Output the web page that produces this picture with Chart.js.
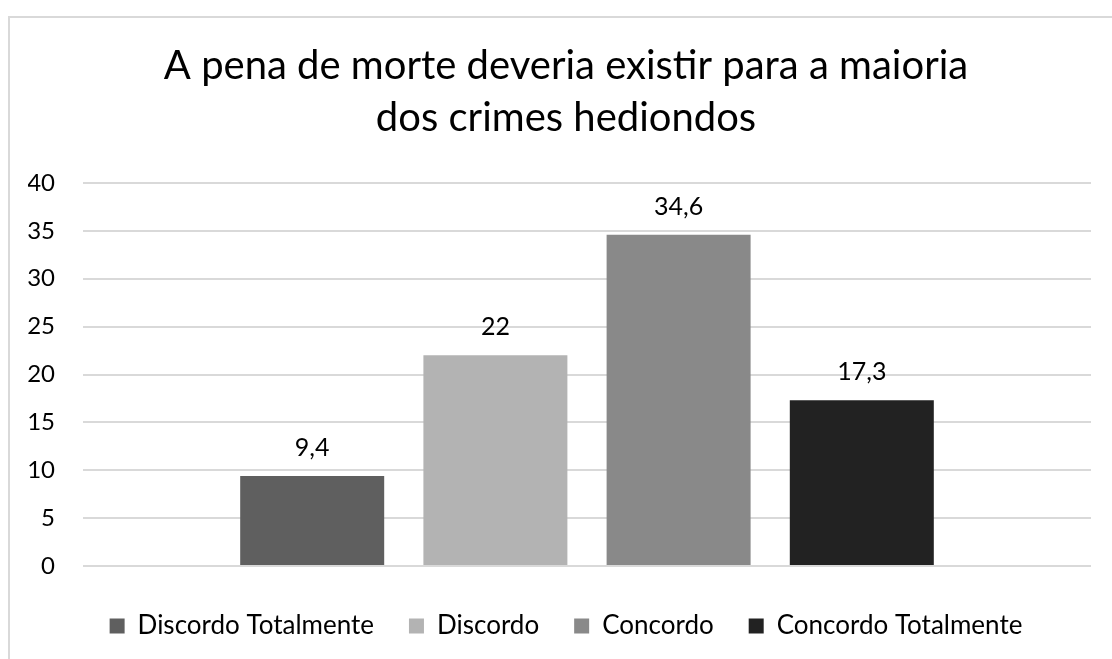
<!DOCTYPE html>
<html>
<head>
<meta charset="utf-8">
<script src="https://cdn.jsdelivr.net/npm/chart.js@4/dist/chart.umd.min.js"></script>
<style>
html,body{margin:0;padding:0;background:#fff;}
#wrap{position:relative;width:1112px;height:659px;overflow:hidden;}
#frame{position:absolute;left:8px;top:16px;width:1200px;height:700px;border-left:2px solid #d9d9d9;border-top:2px solid #d9d9d9;}
#chart{position:absolute;left:0;top:0;}
</style>
</head>
<body>
<div id="wrap">
<div id="frame"></div>
<canvas id="chart" width="1112" height="659"></canvas>
</div>
<script>
const titleLines=["A pena de morte deveria existir para a maioria","dos crimes hediondos"]
const categories=[""]
const seriesNames=["Discordo Totalmente","Discordo","Concordo","Concordo Totalmente"]
const seriesValues=[9.4,22,34.6,17.3]
const seriesColors=["#5f5f5f","#b3b3b3","#898989","#222222"]
const yMin=0
const yMax=40
const yStep=5

const FONT="Lato, 'Open Sans', sans-serif"

// value labels above the bars, placed from each bar element
const valueLabels={
id:"valueLabels",
afterDatasetsDraw(chart){
const ctx=chart.ctx
ctx.save()
ctx.font="25px "+FONT
ctx.fillStyle="#000"
ctx.textAlign="center"
ctx.textBaseline="alphabetic"
chart.data.datasets.forEach((ds,i)=>{
const meta=chart.getDatasetMeta(i)
meta.data.forEach((bar,j)=>{
const txt=String(ds.data[j]).replace(".",",")
ctx.fillText(txt,bar.x,bar.y-20)
})
})
ctx.restore()
}
}

const datasets=seriesNames.map((name,i)=>({
label:name,
data:[seriesValues[i]],
backgroundColor:seriesColors[i],
borderWidth:0,
categoryPercentage:0.727,
barPercentage:0.786
}))

new Chart(document.getElementById("chart"),{
type:"bar",
data:{labels:categories,datasets:datasets},
plugins:[valueLabels],
options:{
responsive:false,
animation:false,
layout:{padding:{left:28,right:8,top:0,bottom:10}},
plugins:{
tooltip:{enabled:false},
title:{
display:true,
text:titleLines,
color:"#000",
font:{family:FONT,size:40,weight:"normal",lineHeight:1.3},
padding:{top:40,bottom:39}
},
legend:{
position:"bottom",
labels:{
color:"#000",
font:{family:FONT,size:26},
boxWidth:15,
boxHeight:15,
padding:35
}
}
},
scales:{
x:{
grid:{display:false,drawTicks:false},
border:{display:false},
ticks:{display:false},
afterFit(scale){scale.height=12}
},
y:{
min:yMin,
max:yMax,
ticks:{stepSize:yStep,color:"#000",font:{family:FONT,size:24},padding:28},
grid:{color:"#d9d9d9",lineWidth:2,drawTicks:false},
border:{display:false},
afterFit(scale){scale.width=55}
},
// empty right-hand spacer so the chart area ends where the reference grid ends
yRight:{
type:"linear",
position:"right",
grid:{display:false,drawTicks:false},
border:{display:false},
ticks:{display:false},
afterFit(scale){scale.width=13}
}
}
}
})
</script>
</body>
</html>
